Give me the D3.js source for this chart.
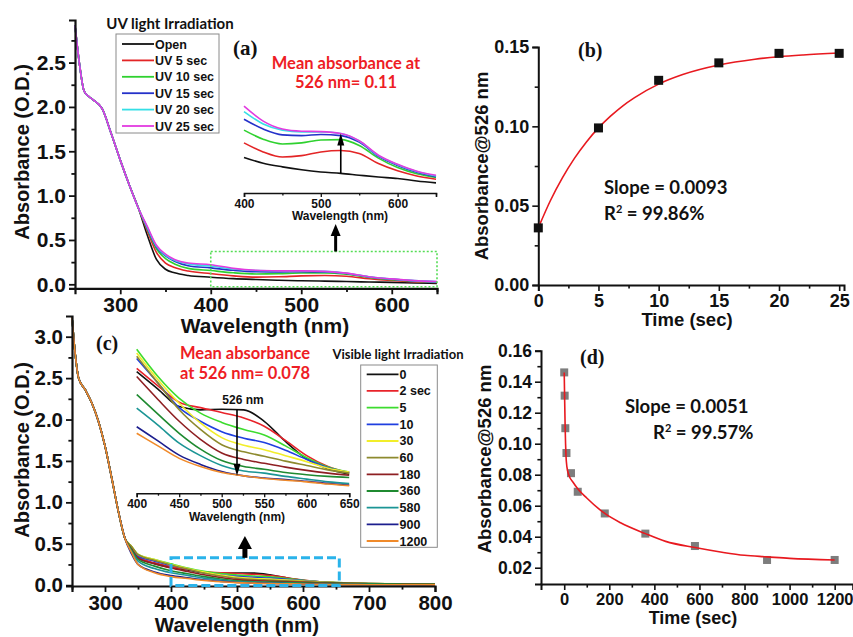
<!DOCTYPE html>
<html><head><meta charset="utf-8">
<script src="https://cdn.jsdelivr.net/npm/d3@7/dist/d3.min.js"></script>
<style>
body{margin:0;background:#fff}
svg{display:block}
.tk text{font-family:"Liberation Sans",Arial,sans-serif;font-weight:bold;fill:#111}
.tk path,.tk line{stroke:#111}
</style>
</head><body>
<svg id="fig" width="853" height="637"></svg>
<script>
// ---------- (a) UV irradiation spectra ----------
const uvHeadWl  = [250, 255, 260, 265, 270, 280, 290, 300, 310, 320];
const uvHeadAbs = [2.92, 2.48, 2.18, 2.12, 2.08, 1.98, 1.70, 1.40, 1.12, 0.86];
const uvTailWl  = [330, 340, 350, 360, 375, 400, 425, 450, 475, 500, 526, 550, 575, 600, 625, 650];
const uvLabels  = ["Open", "UV 5 sec", "UV 10 sec", "UV 15 sec", "UV 20 sec", "UV 25 sec"];
const uvColors  = ["#111111", "#e32526", "#2fd12f", "#2431c9", "#35dfe6", "#e23ae0"];
const uvOpen  = [0.55, 0.28, 0.17, 0.13, 0.10, 0.080, 0.064, 0.054, 0.046, 0.040, 0.036, 0.031, 0.026, 0.022, 0.015, 0.010];
const uv5     = [0.60, 0.36, 0.24, 0.19, 0.15, 0.120, 0.095, 0.081, 0.085, 0.095, 0.099, 0.091, 0.063, 0.043, 0.029, 0.020];
const uv10    = [0.62, 0.40, 0.29, 0.23, 0.18, 0.155, 0.130, 0.117, 0.120, 0.128, 0.129, 0.113, 0.078, 0.052, 0.035, 0.025];
const uv15    = [0.63, 0.42, 0.32, 0.26, 0.21, 0.185, 0.158, 0.142, 0.140, 0.143, 0.140, 0.122, 0.083, 0.058, 0.039, 0.027];
const uv20    = [0.64, 0.43, 0.33, 0.27, 0.23, 0.206, 0.172, 0.155, 0.150, 0.150, 0.146, 0.125, 0.085, 0.060, 0.041, 0.029];
const uv25    = [0.65, 0.44, 0.34, 0.28, 0.24, 0.221, 0.180, 0.158, 0.152, 0.151, 0.146, 0.126, 0.086, 0.061, 0.042, 0.031];
const uvTails = [uvOpen, uv5, uv10, uv15, uv20, uv25];

// ---------- (b) growth at 526 nm ----------
const bTime = [0, 5, 10, 15, 20, 25];
const bAbs  = [0.036, 0.099, 0.129, 0.140, 0.146, 0.146];
const bFitT = [0, 1, 2, 3, 4, 5, 6, 7, 8, 10, 12, 15, 18, 20, 22, 25];
const bFitV = [0.036, 0.0531, 0.0675, 0.0798, 0.0902, 0.0990, 0.1064, 0.1128, 0.1181, 0.1266, 0.1326, 0.1386, 0.1423, 0.1439, 0.1450, 0.1462];

// ---------- (c) visible-light irradiation spectra ----------
const visHeadWl  = [250, 255, 260, 270, 280, 290, 300, 310, 320, 330];
const visHeadAbs = [3.24, 2.78, 2.50, 2.36, 2.20, 1.98, 1.68, 1.30, 0.90, 0.57];
const visTailWl  = [340, 350, 375, 400, 425, 450, 475, 500, 526, 550, 575, 600, 625, 650, 700, 750, 800];
const visLabels  = ["0", "2 sec", "5", "10", "30", "60", "180", "360", "580", "900", "1200"];
const visColors  = ["#111111", "#e8232a", "#3ddc2e", "#1f3fe0", "#f2ee2a", "#8d8a2e", "#8e1f22", "#1f8a30", "#1b9595", "#1c1e8e", "#f08a2a"];
const vis0    = [0.44, 0.33, 0.26, 0.216, 0.184, 0.152, 0.146, 0.147, 0.146, 0.125, 0.088, 0.056, 0.038, 0.028, 0.018, 0.013, 0.010];
const vis2    = [0.45, 0.34, 0.27, 0.222, 0.190, 0.160, 0.150, 0.141, 0.131, 0.116, 0.090, 0.062, 0.042, 0.030, 0.019, 0.013, 0.010];
const vis5    = [0.47, 0.37, 0.31, 0.257, 0.207, 0.167, 0.140, 0.123, 0.110, 0.100, 0.080, 0.058, 0.041, 0.032, 0.020, 0.014, 0.011];
const vis10   = [0.45, 0.35, 0.29, 0.240, 0.195, 0.150, 0.125, 0.106, 0.094, 0.086, 0.072, 0.055, 0.040, 0.031, 0.020, 0.014, 0.011];
const vis30   = [0.47, 0.37, 0.31, 0.250, 0.201, 0.158, 0.122, 0.095, 0.081, 0.073, 0.062, 0.051, 0.039, 0.032, 0.021, 0.015, 0.011];
const vis60   = [0.47, 0.37, 0.30, 0.244, 0.195, 0.146, 0.110, 0.082, 0.069, 0.061, 0.052, 0.044, 0.036, 0.030, 0.020, 0.014, 0.011];
const vis180  = [0.44, 0.33, 0.26, 0.207, 0.165, 0.125, 0.092, 0.067, 0.055, 0.048, 0.041, 0.035, 0.030, 0.026, 0.018, 0.013, 0.010];
const vis360  = [0.43, 0.31, 0.23, 0.174, 0.138, 0.103, 0.074, 0.053, 0.042, 0.037, 0.031, 0.027, 0.024, 0.022, 0.016, 0.012, 0.009];
const vis580  = [0.41, 0.29, 0.20, 0.149, 0.118, 0.085, 0.062, 0.044, 0.034, 0.030, 0.024, 0.019, 0.014, 0.011, 0.008, 0.006, 0.005];
const vis900  = [0.38, 0.25, 0.16, 0.115, 0.089, 0.063, 0.046, 0.033, 0.025, 0.021, 0.018, 0.015, 0.011, 0.008, 0.006, 0.005, 0.004];
const vis1200 = [0.40, 0.25, 0.15, 0.103, 0.080, 0.057, 0.042, 0.031, 0.025, 0.020, 0.017, 0.014, 0.010, 0.007, 0.006, 0.005, 0.004];
const visTails = [vis0, vis2, vis5, vis10, vis30, vis60, vis180, vis360, vis580, vis900, vis1200];

// ---------- (d) decay at 526 nm ----------
const dTime = [0, 2, 5, 10, 30, 60, 180, 360, 580, 900, 1200];
const dAbs  = [0.146, 0.131, 0.110, 0.094, 0.081, 0.069, 0.055, 0.042, 0.034, 0.025, 0.025];
const dFitT = [0, 2, 4, 6, 8, 12, 20, 40, 60, 100, 180, 250, 360, 450, 580, 700, 800, 900, 1000, 1200];
const dFitV = [0.146, 0.128, 0.112, 0.100, 0.092, 0.085, 0.080, 0.075, 0.071, 0.065, 0.055, 0.049, 0.042, 0.037, 0.033, 0.030, 0.028, 0.027, 0.026, 0.025];

// ---------- helpers ----------
const svg = d3.select("#fig");
const SANS = "'Liberation Sans', Arial, sans-serif";
const CAL = "Lato, 'Open Sans', sans-serif";
const SERIF = "'Liberation Serif', 'Times New Roman', serif";

function spectra(heads, headWl, tailWl, tails) {
  return tails.map(t => headWl.map((w, i) => ({w, a: heads[i]})).concat(tailWl.map((w, i) => ({w, a: t[i]}))));
}

function axes(g, x, y, o) {
  const y0 = y.range()[0], x0 = x.range()[0];
  const bx = g.append("g").attr("class", "tk").attr("transform", `translate(0,${y0})`);
  bx.call(d3.axisBottom(x).tickValues(o.xMajor).tickSizeOuter(0).tickSize(o.tick).tickPadding(o.pad).tickFormat(o.xFmt || d3.format("d")));
  bx.selectAll("text").style("font-size", (o.xFont || o.font) + "px");
  bx.select(".domain").attr("stroke-width", o.lw);
  bx.selectAll(".tick line").attr("stroke-width", o.tw);
  if (o.xMinor) {
    const mx = g.append("g").attr("class", "tk").attr("transform", `translate(0,${y0})`);
    mx.call(d3.axisBottom(x).tickValues(o.xMinor).tickSizeOuter(0).tickSize(o.tick * 0.6).tickFormat(""));
    mx.select(".domain").remove();
    mx.selectAll(".tick line").attr("stroke-width", o.tw);
  }
  if (!y || o.noY) return;
  const ly = g.append("g").attr("class", "tk").attr("transform", `translate(${x0},0)`);
  ly.call(d3.axisLeft(y).tickValues(o.yMajor).tickSizeOuter(0).tickSize(o.tick).tickPadding(o.pad).tickFormat(o.yFmt));
  ly.selectAll("text").style("font-size", o.font + "px");
  ly.select(".domain").attr("stroke-width", o.lw);
  ly.selectAll(".tick line").attr("stroke-width", o.tw);
  if (o.yMinor) {
    const my = g.append("g").attr("class", "tk").attr("transform", `translate(${x0},0)`);
    my.call(d3.axisLeft(y).tickValues(o.yMinor).tickSizeOuter(0).tickSize(o.tick * 0.6).tickFormat(""));
    my.select(".domain").remove();
    my.selectAll(".tick line").attr("stroke-width", o.tw);
  }
}

function txt(x, y, s, size, opt = {}) {
  return svg.append("text").attr("x", x).attr("y", y)
    .attr("font-family", opt.family || SANS).attr("font-weight", "bold")
    .attr("font-size", size).attr("fill", opt.fill || "#111")
    .attr("text-anchor", opt.anchor || "start").text(s);
}
function rotLabel(x, y, s, size) {
  svg.append("text").attr("transform", `translate(${x},${y}) rotate(-90)`)
    .attr("font-family", SANS).attr("font-weight", "bold").attr("font-size", size)
    .attr("text-anchor", "middle").attr("dominant-baseline", "central").attr("fill", "#111").text(s);
}
function arrowUp(x, yBase, yTip, shaft, headW, headH) {
  svg.append("line").attr("x1", x).attr("x2", x).attr("y1", yBase).attr("y2", yTip + headH - 1)
    .attr("stroke", "#000").attr("stroke-width", shaft);
  svg.append("path").attr("d", `M${x},${yTip} L${x - headW / 2},${yTip + headH} L${x + headW / 2},${yTip + headH} Z`).attr("fill", "#000");
}
function arrowDown(x, yBase, yTip, shaft, headW, headH) {
  svg.append("line").attr("x1", x).attr("x2", x).attr("y1", yBase).attr("y2", yTip - headH + 1)
    .attr("stroke", "#000").attr("stroke-width", shaft);
  svg.append("path").attr("d", `M${x},${yTip} L${x - headW / 2},${yTip - headH} L${x + headW / 2},${yTip - headH} Z`).attr("fill", "#000");
}

// ================= Panel (a) =================
const uvData = spectra(uvHeadAbs, uvHeadWl, uvTailWl, uvTails);
const xa = d3.scaleLinear([250, 650], [75, 437]);
const ya = d3.scaleLinear([-0.045, 2.98], [288.3, 20]);
const ga = svg.append("g");
const lineA = d3.line().x(d => xa(d.w)).y(d => ya(d.a)).curve(d3.curveMonotoneX);
ga.selectAll("path.sp").data(uvData).join("path").attr("class", "sp")
  .attr("d", lineA).attr("fill", "none").attr("stroke", (d, i) => uvColors[i]).attr("stroke-width", 1.6);
axes(ga, xa, ya, {xMajor: [300, 400, 500, 600], xMinor: [350, 450, 550, 650],
  yMajor: [0, 0.5, 1, 1.5, 2, 2.5], yMinor: [0.25, 0.75, 1.25, 1.75, 2.25, 2.75],
  yFmt: d3.format(".1f"), tick: 6, pad: 3, font: 21, lw: 2.2, tw: 1.8});
rotLabel(22, 152, "Absorbance (O.D.)", 20);
txt(265, 333, "Wavelength (nm)", 21, {anchor: "middle"});

// zoom box and arrow
svg.append("rect").attr("x", xa(400)).attr("y", ya(0.37)).attr("width", xa(650) - xa(400)).attr("height", ya(-0.027) - ya(0.37))
  .attr("fill", "none").attr("stroke", "#55dd55").attr("stroke-width", 1.6).attr("stroke-dasharray", "2,2");
arrowUp(xa(538), ya(0.37), 224, 3, 10, 12);

// legend (a)
txt(170, 29, "UV light Irradiation", 15, {family: CAL, anchor: "middle"});
svg.append("rect").attr("x", 116).attr("y", 34).attr("width", 103).attr("height", 99)
  .attr("fill", "#fff").attr("stroke", "#8a8a8a").attr("stroke-width", 1);
uvLabels.forEach((l, i) => {
  const yy = 44 + i * 16.4;
  svg.append("line").attr("x1", 122).attr("x2", 154).attr("y1", yy).attr("y2", yy).attr("stroke", uvColors[i]).attr("stroke-width", 1.8);
  txt(155, yy + 4.5, l, 12.5);
});
txt(233, 55, "(a)", 21, {family: SERIF});
txt(346, 69, "Mean absorbance at", 16.5, {family: CAL, fill: "#ee1d25", anchor: "middle"});
txt(346, 88, "526 nm= 0.11", 16.5, {family: CAL, fill: "#ee1d25", anchor: "middle"});

// inset (a)
const xai = d3.scaleLinear([400, 650], [244, 436]);
const yai = d3.scaleLinear([-0.018, 0.238], [193, 100]);
const gai = svg.append("g");
const lineAi = d3.line().x(d => xai(d.w)).y(d => yai(d.a)).curve(d3.curveMonotoneX);
gai.selectAll("path.sp").data(uvData.map(s => s.filter(d => d.w >= 400))).join("path").attr("class", "sp")
  .attr("d", lineAi).attr("fill", "none").attr("stroke", (d, i) => uvColors[i]).attr("stroke-width", 1.6);
axes(gai, xai, yai, {xMajor: [400, 500, 600], xMinor: [450, 550, 650], noY: true, tick: 4, pad: 2, font: 12, lw: 1.6, tw: 1.3});
txt(340, 220, "Wavelength (nm)", 12, {anchor: "middle"});
arrowUp(xai(526), yai(uvOpen[10]), yai(uv25[10]), 1.6, 7, 12);

// ================= Panel (b) =================
const xb = d3.scaleLinear([0, 25.4], [538.3, 844]);
const yb = d3.scaleLinear([0, 0.15], [285, 47]);
const gb = svg.append("g");
axes(gb, xb, yb, {xMajor: [0, 5, 10, 15, 20, 25], xMinor: [2.5, 7.5, 12.5, 17.5, 22.5],
  yMajor: [0, 0.05, 0.10, 0.15], yMinor: [0.025, 0.075, 0.125], yFmt: d3.format(".2f"),
  tick: 6, pad: 3, font: 18, lw: 2, tw: 1.6});
gb.append("path").datum(bFitT.map((t, i) => ({t, v: bFitV[i]})))
  .attr("d", d3.line().x(d => xb(d.t)).y(d => yb(d.v)).curve(d3.curveMonotoneX))
  .attr("fill", "none").attr("stroke", "#e8191f").attr("stroke-width", 1.6);
gb.selectAll("rect.pt").data(bTime.map((t, i) => ({t, v: bAbs[i]}))).join("rect").attr("class", "pt")
  .attr("x", d => xb(d.t) - 4.5).attr("y", d => yb(d.v) - 4.5).attr("width", 9).attr("height", 9).attr("fill", "#111");
rotLabel(481, 166, "Absorbance@526 nm", 18.5);
txt(687, 326, "Time (sec)", 18.5, {anchor: "middle"});
txt(578, 57, "(b)", 20, {family: SERIF});
txt(604, 194, "Slope = 0.0093", 18.5, {family: CAL});
const rb = txt(604, 220, "R", 18.5, {family: CAL});
rb.append("tspan").attr("dy", -7).attr("font-size", 11).text("2");
rb.append("tspan").attr("dy", 7).text(" = 99.86%");

// ================= Panel (c) =================
const visData = spectra(visHeadAbs, visHeadWl, visTailWl, visTails);
const xc = d3.scaleLinear([250, 800], [72, 435]);
const yc = d3.scaleLinear([-0.01, 3.25], [586, 316]);
const gc = svg.append("g");
const lineC = d3.line().x(d => xc(d.w)).y(d => yc(d.a)).curve(d3.curveMonotoneX);
gc.selectAll("path.sp").data(visData).join("path").attr("class", "sp")
  .attr("d", lineC).attr("fill", "none").attr("stroke", (d, i) => visColors[i]).attr("stroke-width", 1.6);
axes(gc, xc, yc, {xMajor: [300, 400, 500, 600, 700, 800], xMinor: [250, 350, 450, 550, 650, 750],
  yMajor: [0, 0.5, 1, 1.5, 2, 2.5, 3], yMinor: [0.25, 0.75, 1.25, 1.75, 2.25, 2.75],
  yFmt: d3.format(".1f"), tick: 6, pad: 3, font: 20.5, lw: 2.2, tw: 1.8});
rotLabel(22, 450, "Absorbance (O.D.)", 20);
txt(237, 632, "Wavelength (nm)", 20.5, {anchor: "middle"});
svg.append("rect").attr("x", xc(400)).attr("y", yc(0.33)).attr("width", xc(655) - xc(400)).attr("height", yc(-0.005) - yc(0.33))
  .attr("fill", "none").attr("stroke", "#2ab3ea").attr("stroke-width", 3).attr("stroke-dasharray", "9,4");
arrowUp(xc(512), yc(0.33), 536, 5, 14, 13);

txt(96, 350, "(c)", 20, {family: SERIF});
txt(180, 359, "Mean absorbance", 16.5, {family: CAL, fill: "#ee1d25"});
txt(180, 379, "at 526 nm= 0.078", 16.5, {family: CAL, fill: "#ee1d25"});

// legend (c)
txt(398, 359, "Visible light Irradiation", 13, {family: CAL, anchor: "middle"});
svg.append("rect").attr("x", 360.7).attr("y", 365).attr("width", 76.6).attr("height", 182.3)
  .attr("fill", "#fff").attr("stroke", "#8a8a8a").attr("stroke-width", 1);
visLabels.forEach((l, i) => {
  const yy = 374.3 + i * 16.67;
  svg.append("line").attr("x1", 366.7).attr("x2", 398.5).attr("y1", yy).attr("y2", yy).attr("stroke", visColors[i]).attr("stroke-width", 1.8);
  txt(399.5, yy + 4.5, l, 12.5);
});

// inset (c)
const xci = d3.scaleLinear([400, 650], [136.7, 349.2]);
const yci = d3.scaleLinear([-0.007, 0.274], [493.3, 340]);
const gci = svg.append("g");
const lineCi = d3.line().x(d => xci(d.w)).y(d => yci(d.a)).curve(d3.curveMonotoneX);
gci.selectAll("path.sp").data(visData.map(s => s.filter(d => d.w >= 400 && d.w <= 650))).join("path").attr("class", "sp")
  .attr("d", lineCi).attr("fill", "none").attr("stroke", (d, i) => visColors[i]).attr("stroke-width", 1.6);
axes(gci, xci, yci, {xMajor: [400, 450, 500, 550, 600, 650], xMinor: [425, 475, 525, 575, 625], noY: true,
  tick: 4, pad: 2, font: 12, lw: 1.6, tw: 1.3});
txt(237, 521, "Wavelength (nm)", 12, {anchor: "middle"});
txt(243, 404, "526 nm", 12, {anchor: "middle"});
arrowDown(xci(518), yci(vis0[8]), yci(vis1200[8]), 1.6, 7, 12);

// ================= Panel (d) =================
const xd = d3.scaleLinear([-103, 1280], [541, 852.7]);
const yd = d3.scaleLinear([0.0095, 0.16], [584, 350.7]);
const gd = svg.append("g");
axes(gd, xd, yd, {xMajor: [0, 200, 400, 600, 800, 1000, 1200], xMinor: [100, 300, 500, 700, 900, 1100],
  yMajor: [0.02, 0.04, 0.06, 0.08, 0.10, 0.12, 0.14, 0.16], yMinor: [0.03, 0.05, 0.07, 0.09, 0.11, 0.13, 0.15],
  yFmt: d3.format(".2f"), tick: 6, pad: 3, font: 17.5, xFont: 16.5, lw: 2, tw: 1.6});
gd.selectAll("rect.pt").data(dTime.map((t, i) => ({t, v: dAbs[i]}))).join("rect").attr("class", "pt")
  .attr("x", d => xd(d.t) - 4).attr("y", d => yd(d.v) - 4).attr("width", 8).attr("height", 8).attr("fill", "#7d7d7d");
gd.append("path").datum(dFitT.map((t, i) => ({t, v: dFitV[i]})))
  .attr("d", d3.line().x(d => xd(d.t)).y(d => yd(d.v)).curve(d3.curveMonotoneX))
  .attr("fill", "none").attr("stroke", "#e8191f").attr("stroke-width", 1.6);
rotLabel(484, 459, "Absorbance@526 nm", 18.5);
txt(693, 624, "Time (sec)", 18, {anchor: "middle"});
txt(580, 364, "(d)", 20, {family: SERIF});
txt(625, 413, "Slope = 0.0051", 18.5, {family: CAL});
const rd = txt(653, 439, "R", 18.5, {family: CAL});
rd.append("tspan").attr("dy", -7).attr("font-size", 11).text("2");
rd.append("tspan").attr("dy", 7).text(" = 99.57%");
</script>
</body></html>
